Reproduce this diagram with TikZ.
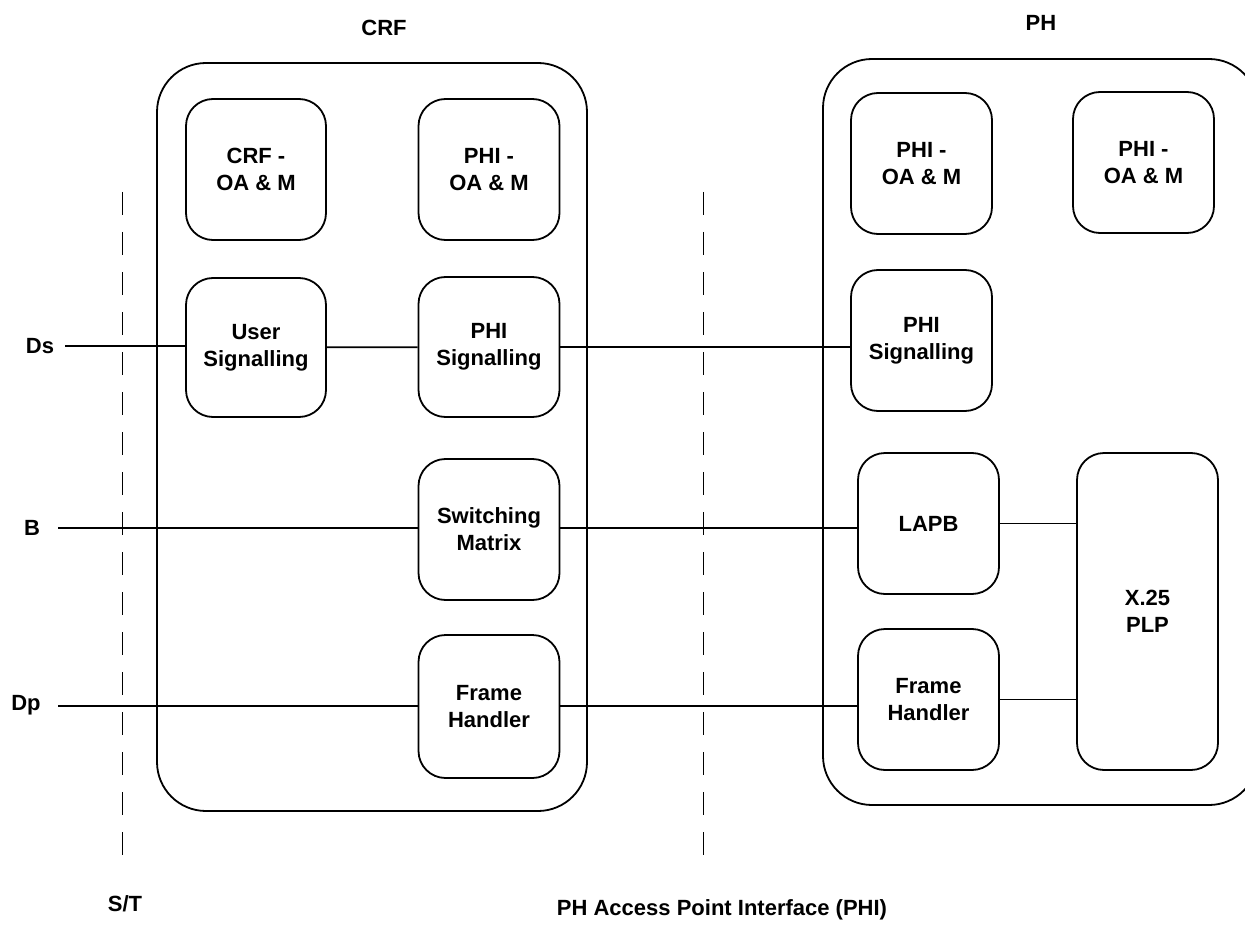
\documentclass[tikz,border=0pt]{standalone}
\usepackage{fontspec}
\setmainfont{Liberation Sans}
\newcommand{\blkfont}{\bfseries\fontsize{22}{27}\selectfont}
\begin{document}
\begin{tikzpicture}[x=1pt,y=-1pt,
    blk/.style={draw,line width=1.8pt,rounded corners=27pt,minimum width=141pt,
        minimum height=141pt,inner sep=0pt,align=center,font=\blkfont},
    grp/.style={draw,line width=1.8pt,rounded corners=49pt},
    wire/.style={line width=1.8pt},
    sep/.style={line width=0.9pt,dash pattern=on 23pt off 17pt},
    lbl/.style={font=\blkfont,inner sep=0pt}]
    \useasboundingbox (0,0) rectangle (1245,928);
    \clip (0,0) rectangle (1245,928);
        %% Groups
        \draw[grp] (157,63) rectangle (587,811);
        \draw[grp] (823,59) rectangle (1258,805);
        \node[lbl] (crflbl) at (384,28) {CRF};
        \node[lbl] (phlbl) at (1041,23) {PH};
        %% CRF blocks
        \node[blk,minimum width=140pt] (crfoam) at (256,169.5) {CRF -\\OA \& M};
        \node[blk] (crfphioam) at (489,169.5) {PHI -\\OA \& M};
        \node[blk,minimum width=140pt,minimum height=139pt] (usig) at (256,347.5) {User\\Signalling};
        \node[blk,minimum height=140pt] (crfsig) at (489,347) {PHI\\Signalling};
        \node[blk] (swm) at (489,529.5) {Switching\\Matrix};
        \node[blk,minimum height=143pt] (crffh) at (489,706.5) {Frame\\Handler};
        %% PH blocks
        \node[blk] (phoam) at (921.5,163.5) {PHI -\\OA \& M};
        \node[blk] (phoamb) at (1143.5,162.5) {PHI -\\OA \& M};
        \node[blk] (phsig) at (921.5,340.5) {PHI\\Signalling};
        \node[blk] (lapb) at (928.5,523.5) {LAPB};
        \node[blk] (phfh) at (928.5,699.5) {Frame\\Handler};
        \node[blk,minimum height=317pt] (plp) at (1147.5,611.5) {X.25\\PLP};
        %% Interfaces
        \node[lbl] (dslbl) at (40,346) {Ds};
        \node[lbl] (blbl) at (32,528) {B};
        \node[lbl] (dplbl) at (26,705) {Dp};
        \coordinate (ds) at (65,346);
        \coordinate (bch) at (58,528);
        \coordinate (dp) at (58,706);
        \draw[sep] (122,192) -- (122,856);
        \draw[sep] (703,192) -- (703,856);
        \node[lbl] (stlbl) at (125,904) {S/T};
        \node[lbl] (philbl) at (722,910) {PH Access Point Interface (PHI)};
        %% Links
        \draw[wire] (ds) -- (ds -| usig.west);
        \draw[wire] (usig) -- (crfsig);
        \draw[wire] (crfsig.east) -- (crfsig.east -| phsig.west);
        \draw[wire] (bch) -- (bch -| swm.west);
        \draw[wire] (swm.east |- bch) -- (bch -| lapb.west);
        \draw[wire] (dp) -- (dp -| crffh.west);
        \draw[wire] (crffh.east |- dp) -- (dp -| phfh.west);
        \draw[wire] (lapb.east) -- (lapb.east -| plp.west);
        \draw[wire] (phfh.east) -- (phfh.east -| plp.west);
\end{tikzpicture}
\end{document}
